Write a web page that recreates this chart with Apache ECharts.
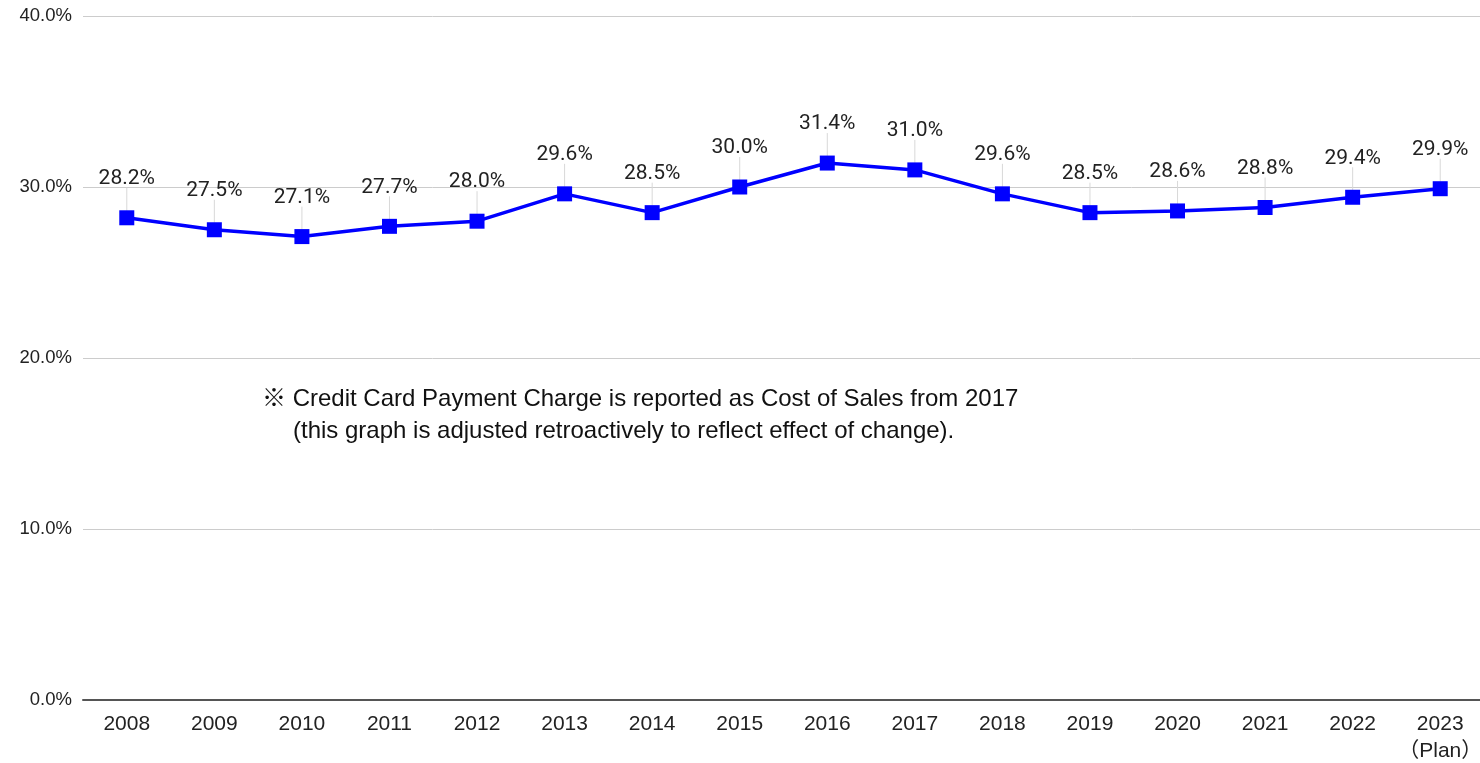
<!DOCTYPE html>
<html>
<head>
<meta charset="utf-8">
<script src="https://cdn.jsdelivr.net/npm/echarts@6/dist/echarts.min.js"></script>
<style>
html,body{margin:0;padding:0;background:#fff;}
#c{width:1480px;height:763px;}
</style>
</head>
<body>
<div id="c"></div>
<script>
const categories = ['2008','2009','2010','2011','2012','2013','2014','2015','2016','2017','2018','2019','2020','2021','2022','2023\n（Plan）'];
const values = [28.2, 27.5, 27.1, 27.7, 28.0, 29.6, 28.5, 30.0, 31.4, 31.0, 29.6, 28.5, 28.6, 28.8, 29.4, 29.9];
const yTicks = [0, 10, 20, 30, 40];
const noteLine1 = '※ Credit Card Payment Charge is reported as Cost of Sales from 2017';
const noteLine2 = '(this graph is adjusted retroactively to reflect effect of change).';

const chart = echarts.init(document.getElementById('c'), null, {renderer: 'canvas'});
chart.setOption({
  animation: false,
  backgroundColor: '#fff',
  grid: {left: 83, width: 1401, top: 16, bottom: 63, containLabel: false, outerBoundsMode: 'none'},
  xAxis: {
    type: 'category',
    data: categories,
    boundaryGap: true,
    axisLine: {show: true, lineStyle: {color: '#555', width: 2}},
    axisTick: {show: false},
    axisLabel: {
      color: '#222', fontSize: 21, fontFamily: 'Liberation Sans, Arial, "Noto Sans CJK JP", sans-serif',
      margin: 11, lineHeight: 27, interval: 0
    }
  },
  yAxis: {
    type: 'value',
    min: yTicks[0], max: yTicks[yTicks.length - 1], interval: 10,
    axisLine: {show: false},
    axisTick: {show: false},
    splitLine: {lineStyle: {color: '#cccccc', width: 1}},
    axisLabel: {
      color: '#222', fontSize: 18.5, fontFamily: 'Liberation Sans, Arial, sans-serif', margin: 11,
      formatter: v => v.toFixed(1) + '%'
    }
  },
  series: [
    {
      type: 'custom',
      z: 1,
      silent: true,
      data: values.map((v, i) => [i, v]),
      renderItem: function (params, api) {
        const p = api.coord([api.value(0), api.value(1)]);
        return {
          type: 'line',
          shape: {x1: p[0], y1: p[1] - 7, x2: p[0], y2: p[1] - 30},
          style: {stroke: '#d8d8d8', lineWidth: 1}
        };
      }
    },
    {
      type: 'line',
      z: 3,
      data: values,
      symbol: 'rect',
      symbolSize: 15,
      lineStyle: {color: '#0000ff', width: 3.5},
      itemStyle: {color: '#0000ff'},
      label: {
        show: true, position: 'top', distance: 21,
        color: '#222', fontSize: 21, fontFamily: 'Roboto, sans-serif',
        formatter: p => p.value.toFixed(1) + '%'
      }
    }
  ],
  graphic: [
    {type: 'text', left: 262, top: 387, style: {text: noteLine1, fontSize: 24, fill: '#111', fontFamily: 'Liberation Sans, Arial, "Noto Sans CJK JP", sans-serif'}},
    {type: 'text', left: 293, top: 419, style: {text: noteLine2, fontSize: 24, fill: '#111', fontFamily: 'Liberation Sans, Arial, sans-serif'}}
  ]
});
</script>
</body>
</html>
